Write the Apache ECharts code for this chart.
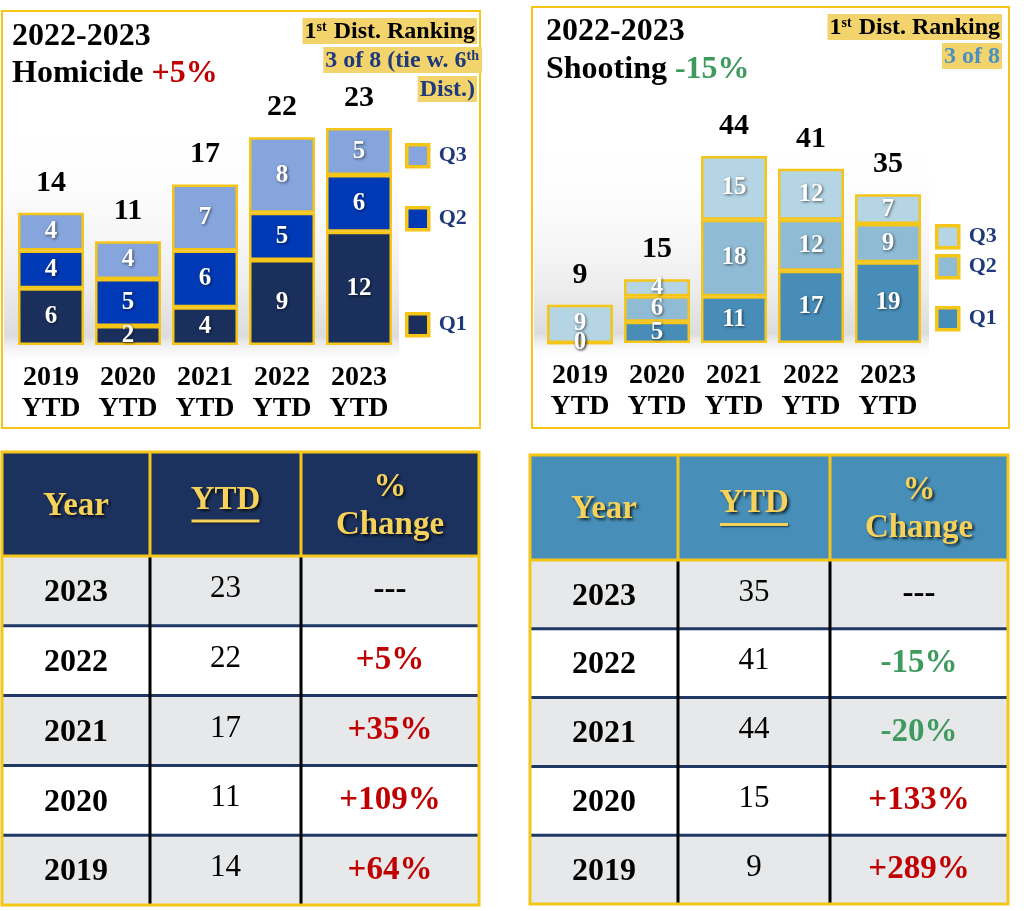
<!DOCTYPE html>
<html>
<head>
<meta charset="utf-8">
<script src="https://cdn.jsdelivr.net/npm/echarts@6/dist/echarts.min.js"></script>
<style>
  html, body { margin: 0; padding: 0; background: #fff; }
  #main { width: 1024px; height: 911px; }
</style>
</head>
<body>
<div id="main"></div>
<script>
// chart data
var categories = ['2019\nYTD', '2020\nYTD', '2021\nYTD', '2022\nYTD', '2023\nYTD'];
var homQ1 = [6, 2, 4, 9, 12];
var homQ2 = [4, 5, 6, 5, 6];
var homQ3 = [4, 4, 7, 8, 5];
var homTotals = [14, 11, 17, 22, 23];
var shootQ1 = [0, 5, 11, 17, 19];
var shootQ2 = [0, 6, 18, 12, 9];
var shootQ3 = [9, 4, 15, 12, 7];
var shootTotals = [9, 15, 44, 41, 35];

// table data
var tableYears = ['2023', '2022', '2021', '2020', '2019'];
var homYtd = [23, 22, 17, 11, 14];
var homChange = ['---', '+5%', '+35%', '+109%', '+64%'];
var shootYtd = [35, 41, 44, 15, 9];
var shootChange = ['---', '-15%', '-20%', '+133%', '+289%'];

var SERIF = '"Liberation Serif", "DejaVu Serif", serif';
var GOLD = '#f5c518';
var RED = '#c00000';
var GREEN = '#3f9a5f';

var myChart = echarts.init(document.getElementById('main'));

function stackSeries(name, data, color, idx, stack) {
    return {
        name: name,
        type: 'bar',
        stack: stack,
        xAxisIndex: idx,
        yAxisIndex: idx,
        barWidth: 66,
        data: data,
        itemStyle: { color: color, borderColor: GOLD, borderWidth: 2.5 },
        label: {
            show: true,
            position: 'inside',
            color: '#fff',
            fontFamily: SERIF,
            fontWeight: 'bold',
            fontSize: 25,
            textShadowColor: 'rgba(0,0,0,0.6)',
            textShadowBlur: 3,
            textShadowOffsetX: 1,
            textShadowOffsetY: 1
        }
    };
}

function totalSeries(data, idx) {
    return {
        name: 'total' + idx,
        type: 'bar',
        xAxisIndex: idx,
        yAxisIndex: idx,
        barWidth: 66,
        barGap: '-100%',
        silent: true,
        z: 1,
        data: data,
        itemStyle: { color: 'rgba(0,0,0,0)' },
        label: {
            show: true,
            position: 'top',
            distance: 15,
            color: '#000',
            fontFamily: SERIF,
            fontWeight: 'bold',
            fontSize: 30
        }
    };
}

function legendAt(name, left, top) {
    return {
        data: [name],
        left: left,
        top: top,
        icon: 'rect',
        itemWidth: 22,
        itemHeight: 22,
        itemStyle: { borderColor: GOLD, borderWidth: 3.5 },
        selectedMode: false,
        formatter: function (n) { return n.slice(1); },
        textStyle: {
            color: '#1f3a7a',
            fontFamily: SERIF,
            fontWeight: 'bold',
            fontSize: 22,
            padding: [0, 0, 0, 5]
        }
    };
}

function xAxisFor(idx) {
    return {
        type: 'category',
        gridIndex: idx,
        data: categories,
        axisLine: { show: false },
        axisTick: { show: false },
        axisLabel: {
            interval: 0,
            margin: 17,
            color: '#000',
            fontFamily: SERIF,
            fontWeight: 'bold',
            fontSize: 28,
            lineHeight: 31
        }
    };
}

function tableGraphics(t, ytd, change) {
    var els = [];
    var bodyTop = t.y + t.headH;
    var n = tableYears.length;
    var cx = [(t.cols[0] + t.cols[1]) / 2, (t.cols[1] + t.cols[2]) / 2, (t.cols[2] + t.cols[3]) / 2];
    var hdrFont = 'bold 33px ' + SERIF;
    var hdrShadow = { textShadowColor: 'rgba(0,0,0,0.75)', textShadowBlur: 3, textShadowOffsetX: 2, textShadowOffsetY: 2 };

    els.push({ type: 'rect', shape: { x: t.cols[0], y: t.y, width: t.cols[3] - t.cols[0], height: t.headH }, style: { fill: t.headFill } });
    for (var i = 0; i < n; i++) {
        els.push({ type: 'rect', shape: { x: t.cols[0], y: bodyTop + i * t.rowH, width: t.cols[3] - t.cols[0], height: t.rowH },
            style: { fill: i % 2 ? '#ffffff' : '#e7e8ea' } });
    }
    // header texts
    var hy = t.y + t.headH / 2;
    els.push({ type: 'text', x: cx[0], y: hy + 2, style: Object.assign({ text: 'Year', fill: '#f6d25a', font: hdrFont, align: 'center', verticalAlign: 'middle' }, hdrShadow) });
    els.push({ type: 'text', x: cx[1], y: hy - 4, style: Object.assign({ text: 'YTD', fill: '#f6d25a', font: hdrFont, align: 'center', verticalAlign: 'middle' }, hdrShadow) });
    els.push({ type: 'line', shape: { x1: cx[1] - 34, y1: hy + 17, x2: cx[1] + 34, y2: hy + 17 }, style: { stroke: '#f6d25a', lineWidth: 3, shadowColor: 'rgba(0,0,0,0.6)', shadowBlur: 2, shadowOffsetX: 1, shadowOffsetY: 1 } });
    els.push({ type: 'text', x: cx[2], y: hy - 17, style: Object.assign({ text: '%', fill: '#f6d25a', font: hdrFont, align: 'center', verticalAlign: 'middle' }, hdrShadow) });
    els.push({ type: 'text', x: cx[2], y: hy + 21, style: Object.assign({ text: 'Change', fill: '#f6d25a', font: hdrFont, align: 'center', verticalAlign: 'middle' }, hdrShadow) });

    // body texts
    for (var r = 0; r < n; r++) {
        var ry = bodyTop + r * t.rowH + t.rowH / 2 + 2;
        var c = change[r];
        var col = c.charAt(0) === '+' ? RED : (c.charAt(0) === '-' && c !== '---' ? GREEN : '#000');
        els.push({ type: 'text', x: cx[0], y: ry, style: { text: tableYears[r], fill: '#000', font: 'bold 32px ' + SERIF, align: 'center', verticalAlign: 'middle' } });
        els.push({ type: 'text', x: cx[1], y: ry - 4, style: { text: String(ytd[r]), fill: '#000', font: '31px ' + SERIF, align: 'center', verticalAlign: 'middle' } });
        els.push({ type: 'text', x: cx[2], y: ry - 2, style: { text: c, fill: col, font: 'bold 33px ' + SERIF, align: 'center', verticalAlign: 'middle' } });
    }
    // row separators
    for (var k = 1; k < n; k++) {
        var ly = bodyTop + k * t.rowH;
        els.push({ type: 'line', shape: { x1: t.cols[0], y1: ly, x2: t.cols[3], y2: ly }, style: { stroke: '#1f3864', lineWidth: 3 } });
    }
    // column separators
    for (var j = 1; j < 3; j++) {
        els.push({ type: 'line', shape: { x1: t.cols[j], y1: bodyTop, x2: t.cols[j], y2: t.y + t.headH + n * t.rowH }, style: { stroke: '#000', lineWidth: 3 } });
        els.push({ type: 'line', shape: { x1: t.cols[j], y1: t.y, x2: t.cols[j], y2: bodyTop }, style: { stroke: GOLD, lineWidth: 3 } });
    }
    els.push({ type: 'line', shape: { x1: t.cols[0], y1: bodyTop, x2: t.cols[3], y2: bodyTop }, style: { stroke: GOLD, lineWidth: 3 } });
    // outer border
    els.push({ type: 'rect', shape: { x: t.cols[0], y: t.y, width: t.cols[3] - t.cols[0], height: t.headH + n * t.rowH }, style: { fill: 'none', stroke: GOLD, lineWidth: 3 } });
    return els;
}

function rankingBox(text, x, y, color) {
    return {
        type: 'text',
        x: x,
        y: y,
        z: 10,
        style: {
            text: text,
            fill: color,
            font: 'bold 24px ' + SERIF,
            align: 'right',
            verticalAlign: 'middle',
            backgroundColor: '#f3d36c',
            padding: [2, 2, 0, 2],
            rich: {
                sup: { fontSize: 14, fontWeight: 'bold', fontFamily: SERIF, fill: color, verticalAlign: 'top', padding: [0, 1, 10, 0] }
            }
        }
    };
}

var panelBands = [
    { type: 'rect', z: -10, shape: { x: 4, y: 120, width: 395, height: 240 },
      style: { fill: new echarts.graphic.LinearGradient(0, 0, 0, 1, [
          { offset: 0, color: 'rgba(255,255,255,0)' },
          { offset: 0.7, color: '#ececec' },
          { offset: 0.9, color: '#dcdcdc' },
          { offset: 1, color: 'rgba(240,240,240,0)' }]) } },
    { type: 'rect', z: -10, shape: { x: 534, y: 140, width: 395, height: 215 },
      style: { fill: new echarts.graphic.LinearGradient(0, 0, 0, 1, [
          { offset: 0, color: 'rgba(255,255,255,0)' },
          { offset: 0.7, color: '#ececec' },
          { offset: 0.9, color: '#dcdcdc' },
          { offset: 1, color: 'rgba(240,240,240,0)' }]) } }
];

var graphics = [].concat(
    panelBands,
    [
        { type: 'rect', shape: { x: 2, y: 11, width: 478, height: 417 }, style: { fill: 'none', stroke: GOLD, lineWidth: 2 } },
        { type: 'rect', shape: { x: 532, y: 7, width: 477, height: 421 }, style: { fill: 'none', stroke: GOLD, lineWidth: 2 } },
        rankingBox('1{sup|st} Dist. Ranking', 477, 31, '#000'),
        rankingBox('3 of 8 (tie w. 6{sup|th}', 482, 60, '#1f3a7a'),
        rankingBox('Dist.)', 477, 89, '#1f3a7a'),
        rankingBox('1{sup|st} Dist. Ranking', 1002, 27, '#000'),
        rankingBox('3 of 8', 1002, 56, '#4a90c0')
    ],
    tableGraphics({ cols: [2, 150, 301, 479], y: 452, headH: 104, rowH: 69.8, headFill: '#1c325e' }, homYtd, homChange),
    tableGraphics({ cols: [530, 678, 830, 1008], y: 455, headH: 105, rowH: 68.8, headFill: '#478fb8' }, shootYtd, shootChange)
);

myChart.setOption({
    backgroundColor: '#fff',
    animation: false,
    title: [
        {
            text: '2022-2023\nHomicide {r|+5%}',
            left: 12,
            top: 18,
            padding: 0,
            textStyle: {
                color: '#000', fontFamily: SERIF, fontWeight: 'bold', fontSize: 32, lineHeight: 37,
                rich: { r: { color: RED, fontFamily: SERIF, fontWeight: 'bold', fontSize: 32, lineHeight: 37 } }
            }
        },
        {
            text: '2022-2023\nShooting {g|-15%}',
            left: 546,
            top: 13,
            padding: 0,
            textStyle: {
                color: '#000', fontFamily: SERIF, fontWeight: 'bold', fontSize: 32, lineHeight: 38,
                rich: { g: { color: GREEN, fontFamily: SERIF, fontWeight: 'bold', fontSize: 32, lineHeight: 38 } }
            }
        }
    ],
    legend: [
        legendAt('hQ3', 400, 138),
        legendAt('hQ2', 400, 201),
        legendAt('hQ1', 400, 307),
        legendAt('sQ3', 930, 219),
        legendAt('sQ2', 930, 249),
        legendAt('sQ1', 930, 301)
    ],
    grid: [
        { left: 12.5, width: 385, top: 109, height: 236 },
        { left: 541.5, width: 385, top: 130.5, height: 212.5 }
    ],
    xAxis: [xAxisFor(0), xAxisFor(1)],
    yAxis: [
        { type: 'value', gridIndex: 0, min: 0, max: 25, show: false, splitLine: { show: false } },
        { type: 'value', gridIndex: 1, min: 0, max: 50, show: false, splitLine: { show: false } }
    ],
    series: [
        stackSeries('hQ1', homQ1, '#1b2f5c', 0, 'hom'),
        stackSeries('hQ2', homQ2, '#0039b5', 0, 'hom'),
        stackSeries('hQ3', homQ3, '#86a5dc', 0, 'hom'),
        totalSeries(homTotals, 0),
        stackSeries('sQ1', shootQ1, '#478db8', 1, 'shoot'),
        stackSeries('sQ2', shootQ2, '#8fbbd4', 1, 'shoot'),
        stackSeries('sQ3', shootQ3, '#b5d5e5', 1, 'shoot'),
        totalSeries(shootTotals, 1)
    ],
    graphic: graphics
});
</script>
</body>
</html>
